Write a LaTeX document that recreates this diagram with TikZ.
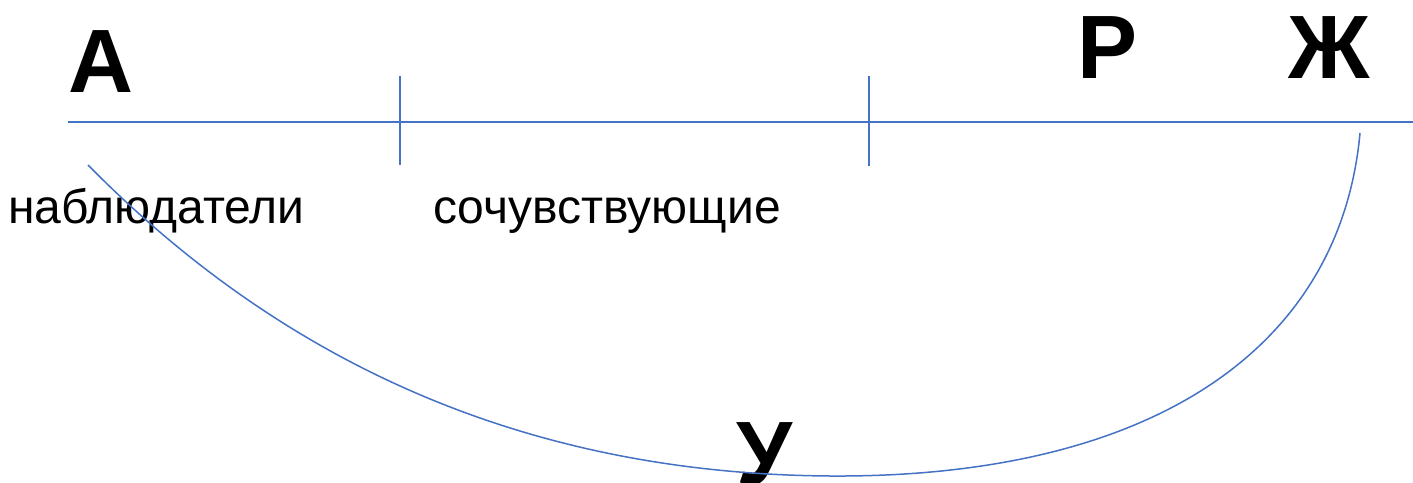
\documentclass[tikz,border=0pt]{standalone}
\usepackage{fontspec}
\setmainfont{Liberation Sans}
\definecolor{ln}{HTML}{4472C4}
\begin{document}
\begin{tikzpicture}[x=1pt,y=-1pt,
  big/.style={inner sep=0pt,anchor=base west,font=\fontsize{90}{94}\selectfont\bfseries},
  lbl/.style={inner sep=0pt,anchor=base west,font=\fontsize{48}{52}\selectfont},
  ln/.style={draw=ln,line width=1.5pt}]
\useasboundingbox (0,0) rectangle (1413,482);
\node[big] (A) at (68,92) {А};
\node[big] (R) at (1077,78) {Р};
\node[big] (Zh) at (1288,78) {Ж};
\node[big] (U) at (736,484) {У};
\node[lbl] (n1) at (8,223) {наблюдатели};
\node[lbl] (n2) at (433,223) {сочувствующие};
\coordinate (L) at (68,122);
\coordinate (Rt) at (1413,122);
\coordinate (t1a) at (400,76);
\coordinate (t1b) at (400,165);
\coordinate (t2a) at (869,76);
\coordinate (t2b) at (869,166);
\coordinate (c0) at (88,165);
\coordinate (c1) at (830,476);
\coordinate (c2) at (1360,133);
\draw[ln] (L) -- (Rt);
\draw[ln] (t1a) -- (t1b);
\draw[ln] (t2a) -- (t2b);
\draw[ln] (c0) .. controls (300,380) and (550,474) .. (c1)
  .. controls (1150,478) and (1340,350) .. (c2);
\end{tikzpicture}
\end{document}
